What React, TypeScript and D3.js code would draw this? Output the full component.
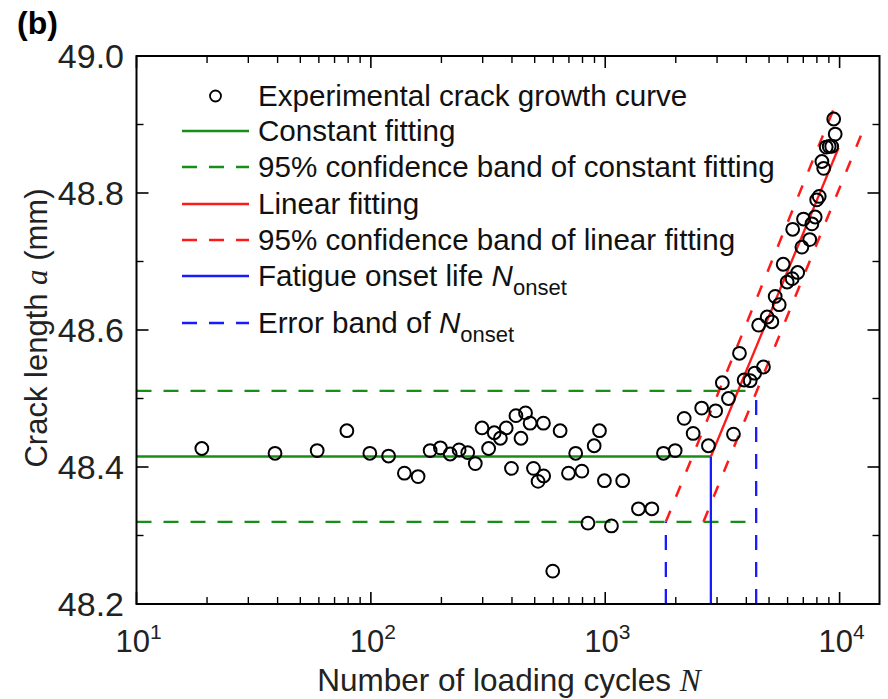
import React from "react";
import * as d3 from "d3";

// Experimental crack growth curve
const cycles: number[] = [
  19, 39, 59, 79, 99, 119, 139, 159, 179, 198, 218, 238, 259, 279, 298, 318, 336, 357, 378, 398,
  416, 437, 457, 478, 494, 517, 546, 545, 597, 642, 697, 748, 795, 844, 897, 945, 992, 1063, 1187,
  1386, 1581, 1772, 1988, 2172, 2372, 2579, 2756, 2959, 3160, 3356, 3525, 3739, 3915, 4154, 4341,
  4732, 4515, 4909, 5140, 5310, 5524, 5745, 5975, 6277, 6625, 6904, 6307, 7014, 7455, 7618, 7867,
  7984, 8183, 8554, 8404, 8768, 9028, 9253, 9577, 9437,
];
const crackLength: number[] = [
  48.427, 48.42, 48.424, 48.453, 48.42, 48.416, 48.391, 48.386, 48.424, 48.428, 48.419, 48.425,
  48.421, 48.405, 48.457, 48.427, 48.45, 48.442, 48.457, 48.398, 48.475, 48.442, 48.479, 48.464,
  48.398, 48.379, 48.387, 48.464, 48.248, 48.453, 48.391, 48.42, 48.394, 48.318, 48.431, 48.453,
  48.38, 48.314, 48.38, 48.339, 48.339, 48.42, 48.424, 48.471, 48.449, 48.486, 48.431, 48.482,
  48.523, 48.5, 48.448, 48.566, 48.527, 48.526, 48.537, 48.546, 48.607, 48.619, 48.612, 48.649,
  48.637, 48.696, 48.67, 48.675, 48.684, 48.721, 48.747, 48.762, 48.732, 48.755, 48.765, 48.79,
  48.795, 48.836, 48.846, 48.867, 48.868, 48.868, 48.886, 48.908,
];

// Fits
const constantLevel = 48.4153;
const constantBand: number[] = [48.32, 48.511];
const onsetLife = 2823;
const onsetBand: number[] = [1814, 4406];
const linearFit: [number, number][] = [[2823, 48.4153], [9900, 48.866]];
const linearUpper: [number, number][] = [[1814, 48.32], [9577, 48.928]];
const linearLower: [number, number][] = [[2625, 48.32], [12368, 48.885]];

const yTicks: number[] = [48.2, 48.4, 48.6, 48.8, 49.0];
const yMinorTicks: number[] = [48.3, 48.5, 48.7, 48.9];
const xDecades: number[] = [1, 2, 3, 4];

const GREEN = "#178f17";
const RED = "#ff1a1a";
const BLUE = "#1a1aff";
const SANS = "'Liberation Sans', Arial, sans-serif";
const SERIF = "'Liberation Serif', 'Times New Roman', serif";

export default function App() {
  const W = 888, H = 699;
  const x0 = 136.5, x1 = 879.5, y0 = 56, y1 = 604;
  const x = d3.scaleLog().domain([10, 14800]).range([x0, x1]);
  const y = d3.scaleLinear().domain([48.2, 49.0]).range([y1, y0]);
  const line = d3.line<[number, number]>().x((d) => x(d[0])).y((d) => y(d[1]));

  const xMajor = xDecades.map((e) => Math.pow(10, e));
  const xMinor: number[] = [];
  for (let e = 1; e <= 4; e++) for (let m = 2; m <= 9; m++) {
    const v = m * Math.pow(10, e);
    if (v < 14800) xMinor.push(v);
  }
  const MAJ = 12, MIN = 7;

  const legendRows = [
    { cy: 96, kind: "circle" },
    { cy: 131, kind: "line", color: GREEN, dash: "" },
    { cy: 167, kind: "line", color: GREEN, dash: "15,12" },
    { cy: 204, kind: "line", color: RED, dash: "" },
    { cy: 240, kind: "line", color: RED, dash: "15,12" },
    { cy: 276, kind: "line", color: BLUE, dash: "" },
    { cy: 323, kind: "line", color: BLUE, dash: "15,12" },
  ];
  const LX0 = 182, LX1 = 249, TX = 258, FS = 29.6;

  return (
    <svg width={W} height={H} style={{ position: "absolute", left: 0, top: 0, background: "#fff" }}>
      <rect x={0} y={0} width={W} height={H} fill="#fff" />
      {/* constant fitting */}
      <line x1={x(10)} x2={x(onsetBand[1])} y1={y(constantBand[1])} y2={y(constantBand[1])} stroke={GREEN} strokeWidth={2.3} strokeDasharray="15,12" />
      <line x1={x(10)} x2={x(onsetBand[1])} y1={y(constantBand[0])} y2={y(constantBand[0])} stroke={GREEN} strokeWidth={2.3} strokeDasharray="15,12" />
      <line x1={x(10)} x2={x(onsetLife)} y1={y(constantLevel)} y2={y(constantLevel)} stroke={GREEN} strokeWidth={2.3} />
      {/* onset */}
      <line x1={x(onsetBand[0])} x2={x(onsetBand[0])} y1={y(48.2)} y2={y(constantBand[0])} stroke={BLUE} strokeWidth={2.3} strokeDasharray="15,12" />
      <line x1={x(onsetBand[1])} x2={x(onsetBand[1])} y1={y(48.2)} y2={y(constantBand[1])} stroke={BLUE} strokeWidth={2.3} strokeDasharray="15,12" />
      <line x1={x(onsetLife)} x2={x(onsetLife)} y1={y(48.2)} y2={y(constantLevel)} stroke={BLUE} strokeWidth={2.3} />
      {/* linear fitting */}
      <path d={line(linearUpper) || ""} stroke={RED} strokeWidth={2.5} fill="none" strokeDasharray="12,15" />
      <path d={line(linearLower) || ""} stroke={RED} strokeWidth={2.5} fill="none" strokeDasharray="12,15" />
      <path d={line(linearFit) || ""} stroke={RED} strokeWidth={2.3} fill="none" />
      {/* data */}
      {cycles.map((n, i) => (
        <circle key={i} cx={x(n)} cy={y(crackLength[i])} r={6.4} fill="none" stroke="#000" strokeWidth={2} />
      ))}
      {/* frame */}
      <rect x={x0} y={y0} width={x1 - x0} height={y1 - y0} fill="none" stroke="#000" strokeWidth={2} />
      {/* x ticks */}
      {xMajor.map((v) => (
        <g key={"xM" + v}>
          <line x1={x(v)} x2={x(v)} y1={y1} y2={y1 - MAJ} stroke="#000" strokeWidth={1.6} />
          <line x1={x(v)} x2={x(v)} y1={y0} y2={y0 + MAJ} stroke="#000" strokeWidth={1.6} />
        </g>
      ))}
      {xMinor.map((v) => (
        <g key={"xm" + v}>
          <line x1={x(v)} x2={x(v)} y1={y1} y2={y1 - MIN} stroke="#000" strokeWidth={1.4} />
          <line x1={x(v)} x2={x(v)} y1={y0} y2={y0 + MIN} stroke="#000" strokeWidth={1.4} />
        </g>
      ))}
      {/* y ticks */}
      {yTicks.map((v) => (
        <g key={"yM" + v}>
          <line x1={x0} x2={x0 + MAJ} y1={y(v)} y2={y(v)} stroke="#000" strokeWidth={1.6} />
          <line x1={x1} x2={x1 - MAJ} y1={y(v)} y2={y(v)} stroke="#000" strokeWidth={1.6} />
        </g>
      ))}
      {yMinorTicks.map((v) => (
        <g key={"ym" + v}>
          <line x1={x0} x2={x0 + MIN} y1={y(v)} y2={y(v)} stroke="#000" strokeWidth={1.4} />
          <line x1={x1} x2={x1 - MIN} y1={y(v)} y2={y(v)} stroke="#000" strokeWidth={1.4} />
        </g>
      ))}
      {/* y tick labels */}
      {yTicks.map((v) => (
        <text key={"yl" + v} x={124} y={y(v)} dy="0.36em" textAnchor="end" fontFamily={SANS} fontSize={34} fill="#222">
          {v.toFixed(1)}
        </text>
      ))}
      {/* x tick labels */}
      {xDecades.map((e) => (
        <text key={"xl" + e} x={x(Math.pow(10, e)) + 2} y={652} textAnchor="middle" fontFamily={SANS} fontSize={31} fill="#222">
          10<tspan fontSize={21} dy={-13}>{e}</tspan>
        </text>
      ))}
      {/* axis titles */}
      <text x={509} y={691} textAnchor="middle" fontFamily={SANS} fontSize={31.5} fill="#222">
        Number of loading cycles <tspan fontFamily={SERIF} fontStyle="italic">N</tspan>
      </text>
      <text transform="translate(47,328) rotate(-90)" textAnchor="middle" fontFamily={SANS} fontSize={31} fill="#222">
        Crack length <tspan fontFamily={SERIF} fontStyle="italic">a</tspan> (mm)
      </text>
      <text x={17} y={34} fontFamily={SANS} fontWeight="bold" fontSize={32} fill="#000">(b)</text>
      {/* legend */}
      {legendRows.map((r, i) =>
        r.kind === "circle" ? (
          <circle key={"lg" + i} cx={(LX0 + LX1) / 2} cy={r.cy} r={5.5} fill="none" stroke="#000" strokeWidth={1.8} />
        ) : (
          <line key={"lg" + i} x1={LX0} x2={LX1} y1={r.cy} y2={r.cy} stroke={r.color} strokeWidth={2.3} strokeDasharray={r.dash || undefined} />
        )
      )}
      <g fontFamily={SANS} fontSize={FS} fill="#111">
        <text x={TX} y={96} dy="0.35em">Experimental crack growth curve</text>
        <text x={TX} y={131} dy="0.35em">Constant fitting</text>
        <text x={TX} y={167} dy="0.35em">95% confidence band of constant fitting</text>
        <text x={TX} y={204} dy="0.35em">Linear fitting</text>
        <text x={TX} y={240} dy="0.35em">95% confidence band of linear fitting</text>
        <text x={TX} y={276} dy="0.35em">
          Fatigue onset life <tspan fontStyle="italic">N</tspan>
          <tspan fontSize={22} dy={9}>onset</tspan>
        </text>
        <text x={TX} y={323} dy="0.35em">
          Error band of <tspan fontStyle="italic">N</tspan>
          <tspan fontSize={22} dy={9}>onset</tspan>
        </text>
      </g>
    </svg>
  );
}
